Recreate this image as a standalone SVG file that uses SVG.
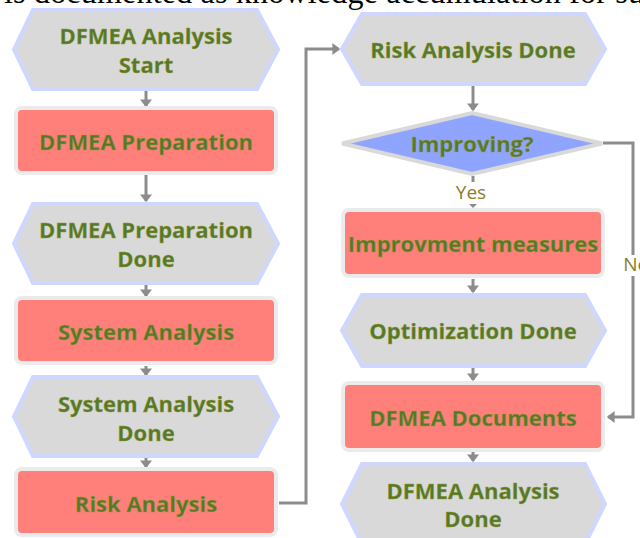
<svg xmlns="http://www.w3.org/2000/svg" width="640" height="538" viewBox="0 0 640 538">
<defs>
<marker id="ah" markerWidth="4" markerHeight="4" refX="2.2" refY="2" orient="auto" markerUnits="strokeWidth">
<path d="M0,0 L2.6,2 L0,4 Z" fill="#8c8c8c"/>
</marker>
<style>
.hex{fill:#d9d9d9;stroke:#cfd7ff;stroke-width:4;stroke-linejoin:miter}
.box{fill:#ff7f7a;stroke:#ebebeb;stroke-width:4}
.dia{fill:#8ea4ff;stroke:#d9d9d9;stroke-width:4}
.t{font-family:"Open Sans","Noto Sans",sans-serif;font-weight:700;font-size:22px;fill:#537a29;stroke:#a49a35;stroke-width:0.35;text-anchor:middle;dominant-baseline:central}
.lbl{font-family:"Open Sans","Noto Sans",sans-serif;font-size:19px;fill:#8a7d2c;text-anchor:middle;dominant-baseline:central}
.c{fill:none;stroke:#8c8c8c;stroke-width:3;marker-end:url(#ah)}
.cn{fill:none;stroke:#8c8c8c;stroke-width:3}
.cap{font-family:"Liberation Serif",serif;font-size:32px;fill:#000}
</style>
</defs>
<rect width="640" height="538" fill="#fff"/>
<text class="cap" x="4" y="3" textLength="640" lengthAdjust="spacing">is documented as knowledge accumulation for su</text>

<g id="connectors">
<path class="c" d="M146,90 V106"/>
<path class="c" d="M146,175 V201"/>
<path class="c" d="M146,283 V296"/>
<path class="c" d="M146,366 V375"/>
<path class="c" d="M146,457 V467"/>
<path class="c" d="M279,503 H306 V49 H339"/>
<path class="c" d="M473,85 V110"/>
<path class="cn" d="M473,176 V204"/>
<path d="M469,204 L473,208 L477,204 Z" fill="#8c8c8c"/>
<path class="cn" d="M603,143 H633 V255"/>
<path class="c" d="M633,276 V417 H608"/>
<path class="c" d="M473,279 V292"/>
<path class="c" d="M473,368 V380"/>
<path class="c" d="M473,452 V461"/>
<rect x="450" y="182" width="44" height="22" fill="#fff"/>
<text class="lbl" x="471" y="192">Yes</text>
<text class="lbl" x="636" y="264">No</text>
</g>

<g id="n1"><polygon class="hex" points="33,10 257,10 278,49.5 257,89 33,89 14,49.5"/>
<text class="t" x="146" y="35">DFMEA Analysis</text><text class="t" x="146" y="64">Start</text></g>

<g id="n2"><rect class="box" x="16" y="108" width="260" height="65" rx="6"/>
<text class="t" x="146" y="141">DFMEA Preparation</text></g>

<g id="n3"><polygon class="hex" points="33,204 257,204 278,243.5 257,283 33,283 14,243.5"/>
<text class="t" x="146" y="229">DFMEA Preparation</text><text class="t" x="146" y="258">Done</text></g>

<g id="n4"><rect class="box" x="16" y="298" width="260" height="65" rx="6"/>
<text class="t" x="146" y="331">System Analysis</text></g>

<g id="n5"><polygon class="hex" points="33,377 257,377 278,416.5 257,456 33,456 14,416.5"/>
<text class="t" x="146" y="403">System Analysis</text><text class="t" x="146" y="432">Done</text></g>

<g id="n6"><rect class="box" x="16" y="469" width="260" height="66" rx="6"/>
<text class="t" x="146" y="503">Risk Analysis</text></g>

<g id="n7"><polygon class="hex" points="362,14 585,14 605,49 585,84 362,84 342,49"/>
<text class="t" x="473" y="49">Risk Analysis Done</text></g>

<g id="n8"><polygon class="dia" points="472,113 602,143.5 472,174 342,143.5"/>
<text class="t" x="472" y="143">Improving?</text></g>

<g id="n9"><rect class="box" x="343" y="210" width="260" height="66" rx="6"/>
<text class="t" x="473" y="243">Improvment measures</text></g>

<g id="n10"><polygon class="hex" points="362,295 585,295 605,330.5 585,366 362,366 342,330.5"/>
<text class="t" x="473" y="330">Optimization Done</text></g>

<g id="n11"><rect class="box" x="343" y="383" width="260" height="67" rx="6"/>
<text class="t" x="473" y="417">DFMEA Documents</text></g>

<g id="n12"><polygon class="hex" points="362,464 585,464 605,504 585,544 362,544 342,504"/>
<text class="t" x="473" y="490">DFMEA Analysis</text><text class="t" x="473" y="518">Done</text></g>
</svg>
